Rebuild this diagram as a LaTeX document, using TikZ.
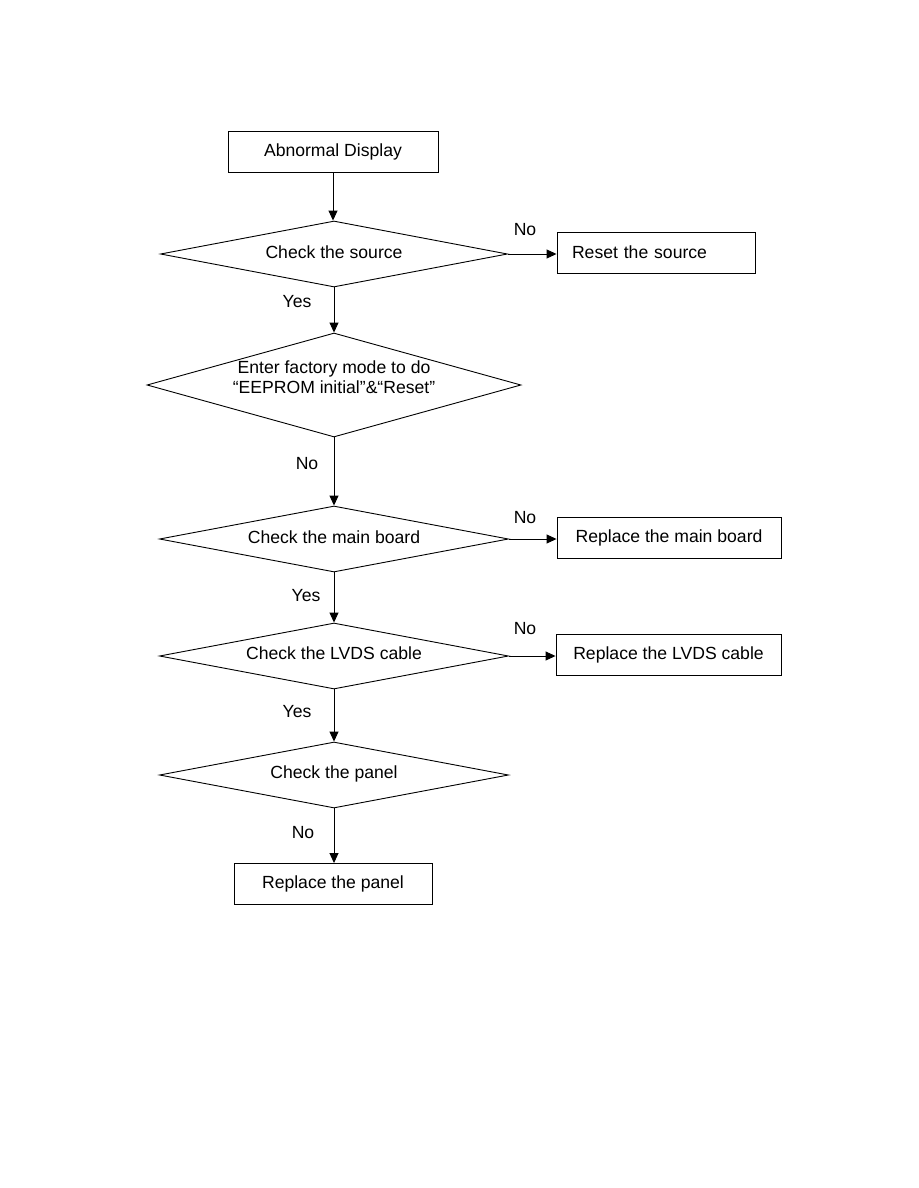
\documentclass[tikz,border=0pt]{standalone}
\usepackage{fontspec}
\setmainfont{Liberation Sans}
\usetikzlibrary{shapes.geometric,arrows.meta}

\tikzset{
  box/.style={draw, line width=0.9pt, minimum height=41pt, inner sep=0pt},
  decision/.style={draw, diamond, line width=0.9pt, inner sep=0pt, aspect=5,
    minimum width=349pt, minimum height=66pt},
  flow/.style={draw, line width=0.9pt, -{Triangle[length=10pt,width=9pt]}},
  answer/.style={inner sep=0pt},
}
\newcommand{\lift}[2]{\raisebox{#1}[\height][\depth]{#2}}

\begin{document}
\begin{tikzpicture}[x=1pt,y=-1pt,font=\fontsize{17.6}{21}\selectfont]
\useasboundingbox (0,0) rectangle (918,1188);

% main column
\node[box, minimum width=210pt] (abn) at (333,152) {Abnormal Display};
\node[decision, minimum width=347pt] (src) at (334,254) {\lift{2pt}{Check the source}};
\node[decision, aspect=3.6, minimum width=374pt, minimum height=104pt]
  (fac) at (334,385) {\lift{6pt}{\begin{tabular}{@{}c@{}}Enter factory mode to do\\[-1pt]“EEPROM initial”\&“Reset”\end{tabular}}};
\node[decision] (mbd) at (334,539) {\lift{2pt}{Check the main board}};
\node[decision] (lvd) at (334,656) {\lift{3pt}{Check the LVDS cable}};
\node[decision] (pnd) at (334,775) {\lift{1pt}{Check the panel}};
\node[box, minimum width=198pt] (pnl) at (333,884) {Replace the panel};

% right column
\node[box, minimum width=198pt, text width=168pt, inner xsep=15pt, align=left]
  (rst) at (656,252.5) {Reset the source};
\node[box, minimum width=224pt] (mb) at (669,538) {Replace the main board};
\node[box, minimum width=225pt] (lv) at (668.5,655) {Replace the LVDS cable};

% connectors
\draw[flow] (abn.south) -- (abn.south |- src.north);
\draw[flow] (src.south) -- (src.south |- fac.north);
\draw[flow] (fac.south) -- (fac.south |- mbd.north);
\draw[flow] (mbd.south) -- (mbd.south |- lvd.north);
\draw[flow] (lvd.south) -- (lvd.south |- pnd.north);
\draw[flow] (pnd.south) -- (pnd.south |- pnl.north);
\draw[flow] (src.east) -- (src.east -| rst.west);
\draw[flow] (mbd.east) -- (mbd.east -| mb.west);
\draw[flow] (lvd.east) -- (lvd.east -| lv.west);

% answers
\node[answer] (no1) at (525,230) {No};
\node[answer] (yes1) at (297,302) {Yes};
\node[answer] (no2) at (307,464) {No};
\node[answer] (no3) at (525,518) {No};
\node[answer] (yes2) at (306,596) {Yes};
\node[answer] (no4) at (525,629) {No};
\node[answer] (yes3) at (297,712) {Yes};
\node[answer] (no5) at (303,833) {No};
\end{tikzpicture}
\end{document}
